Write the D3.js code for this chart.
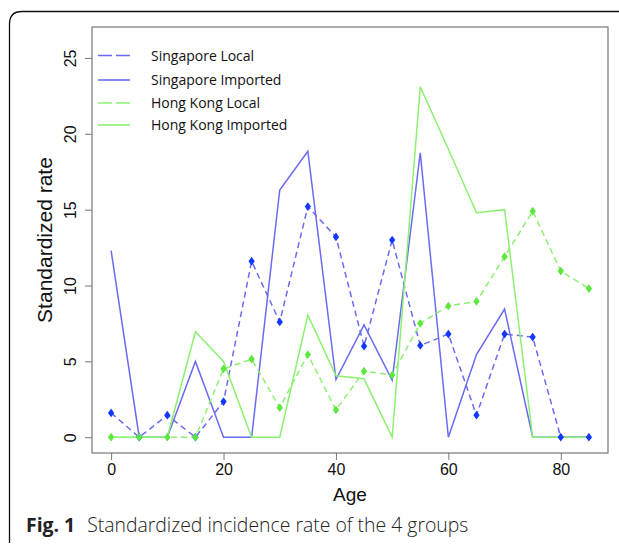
<!DOCTYPE html>
<html>
<head>
<meta charset="utf-8">
<script src="https://cdn.jsdelivr.net/npm/d3@7"></script>
<style>
  body { margin: 0; background: #fff; }
  svg { display: block; }
</style>
</head>
<body>
<svg id="chart"></svg>
<script>
// data
let ages = [0, 5, 10, 15, 20, 25, 30, 35, 40, 45, 50, 55, 60, 65, 70, 75, 80, 85]
let sgLocal = [1.6, 0, 1.45, 0, 2.35, 11.6, 7.6, 15.2, 13.2, 6.0, 13.0, 6.05, 6.8, 1.45, 6.8, 6.6, 0, 0]
let sgImported = [12.3, 0, 0, 5.0, 0, 0, 16.3, 18.85, 3.8, 7.4, 3.75, 18.75, 0, 5.45, 8.45, 0, 0, 0]
let hkLocal = [0, 0, 0, 0, 4.5, 5.15, 1.95, 5.45, 1.8, 4.35, 4.1, 7.5, 8.65, 8.95, 11.9, 14.9, 10.95, 9.8]
let hkImported = [0, 0, 0, 6.95, 5.0, 0, 0, 8.05, 4.05, 3.85, 0, 23.1, 19.0, 14.8, 15.0, 0, 0, 0]

let seriesNames = ['Singapore Local', 'Singapore Imported', 'Hong Kong Local', 'Hong Kong Imported']
let xTicks = [0, 20, 40, 60, 80]
let yTicks = [0, 5, 10, 15, 20, 25]

let W = 619, H = 544
let box = {left: 92, right: 608, top: 27, bottom: 453}

let blueLine = '#6a6af4', bluePt = '#1238ff'
let greenLine = '#8cf070', greenPt = '#5be83c'

let series = [
    {name: seriesNames[0], values: sgLocal, color: blueLine, pt: bluePt, dash: '6,4', points: true},
    {name: seriesNames[1], values: sgImported, color: blueLine, pt: bluePt, dash: null, points: false},
    {name: seriesNames[2], values: hkLocal, color: greenLine, pt: greenPt, dash: '6,4', points: true},
    {name: seriesNames[3], values: hkImported, color: greenLine, pt: greenPt, dash: null, points: false}
]

let svg = d3.select('#chart').attr('width', W).attr('height', H)

// x 0..85 and y 0..26 with R's 4% padding
let xScale = d3.scaleLinear().domain([-3.4, 88.4]).range([box.left, box.right])
let yScale = d3.scaleLinear().domain([-1.04, 27.04]).range([box.bottom, box.top])

// outer panel frame (rounded top-left corner)
svg.append('path')
    .attr('d', `M9.5,543 L9.5,24 Q9.5,11.5 22,11.5 L${W},11.5`)
    .attr('fill', 'none')
    .attr('stroke', '#111')
    .attr('stroke-width', 1.3)

// plot box
svg.append('rect')
    .attr('x', box.left).attr('y', box.top)
    .attr('width', box.right - box.left).attr('height', box.bottom - box.top)
    .attr('fill', 'none').attr('stroke', '#777').attr('stroke-width', 1.2)

// axes
let xAxis = d3.axisBottom(xScale).tickValues(xTicks).tickSize(7).tickPadding(4)
let gx = svg.append('g')
    .attr('transform', `translate(0, ${box.bottom})`)
    .call(xAxis)
gx.select('.domain').remove()
gx.selectAll('line').attr('stroke', '#777')
gx.selectAll('text')
    .attr('font-family', 'Liberation Sans, Arial, sans-serif')
    .attr('font-size', 16).attr('fill', '#111')

let yAxis = d3.axisLeft(yScale).tickValues(yTicks).tickSize(7).tickPadding(0)
let gy = svg.append('g')
    .attr('transform', `translate(${box.left}, 0)`)
    .call(yAxis)
gy.select('.domain').remove()
gy.selectAll('line').attr('stroke', '#777')
gy.selectAll('text')
    .attr('font-family', 'Liberation Sans, Arial, sans-serif')
    .attr('font-size', 16).attr('fill', '#111')
    .attr('x', 0).attr('dy', 0)
    .attr('text-anchor', 'middle')
    .attr('transform', 'translate(-16, 0) rotate(-90)')

// axis titles
svg.append('text')
    .text('Age')
    .attr('x', xScale(42.5)).attr('y', 501)
    .attr('text-anchor', 'middle')
    .attr('font-family', 'Liberation Sans, Arial, sans-serif')
    .attr('font-size', 19).attr('fill', '#111')

svg.append('text')
    .text('Standardized rate')
    .attr('transform', `translate(52, ${(box.top + box.bottom) / 2}) rotate(-90)`)
    .attr('text-anchor', 'middle')
    .attr('font-family', 'Liberation Sans, Arial, sans-serif')
    .attr('font-size', 21).attr('fill', '#111')

// lines
let line = d3.line()
    .x(function(d, i) { return xScale(ages[i]) })
    .y(function(d) { return yScale(d) })

series.forEach(function(s) {
    svg.append('path')
        .datum(s.values)
        .attr('d', line)
        .attr('fill', 'none')
        .attr('stroke', s.color)
        .attr('stroke-width', 1.5)
        .attr('stroke-dasharray', s.dash)
})

// points on the local series
let diamond = d3.symbol().type(d3.symbolDiamond).size(22)
series.filter(function(s) { return s.points }).forEach(function(s) {
    svg.append('g').selectAll('path')
        .data(s.values)
        .enter().append('path')
            .attr('d', diamond)
            .attr('transform', function(d, i) { return `translate(${xScale(ages[i])}, ${yScale(d)}) scale(1.25, 1)` })
            .attr('fill', s.pt)
})

// legend
let legend = svg.append('g')
let rowsY = [55.5, 80, 103, 125]
series.forEach(function(s, i) {
    legend.append('line')
        .attr('x1', 98).attr('x2', 130)
        .attr('y1', rowsY[i]).attr('y2', rowsY[i])
        .attr('stroke', s.color)
        .attr('stroke-width', 1.6)
        .attr('stroke-dasharray', s.dash ? '14,4' : null)
    legend.append('text')
        .text(s.name)
        .attr('x', 151).attr('y', rowsY[i] + 5)
        .attr('font-family', 'Open Sans, Noto Sans, sans-serif')
        .attr('font-size', 14).attr('fill', '#111')
})

// caption
let cap = svg.append('text')
    .attr('x', 26).attr('y', 532)
    .attr('font-family', 'Open Sans, Noto Sans, sans-serif')
    .attr('font-size', 19.4).attr('fill', '#222')
cap.append('tspan').text('Fig. 1').attr('font-weight', 'bold')
cap.append('tspan').text('Standardized incidence rate of the 4 groups').attr('dx', 12).attr('font-weight', 300)
</script>
</body>
</html>
